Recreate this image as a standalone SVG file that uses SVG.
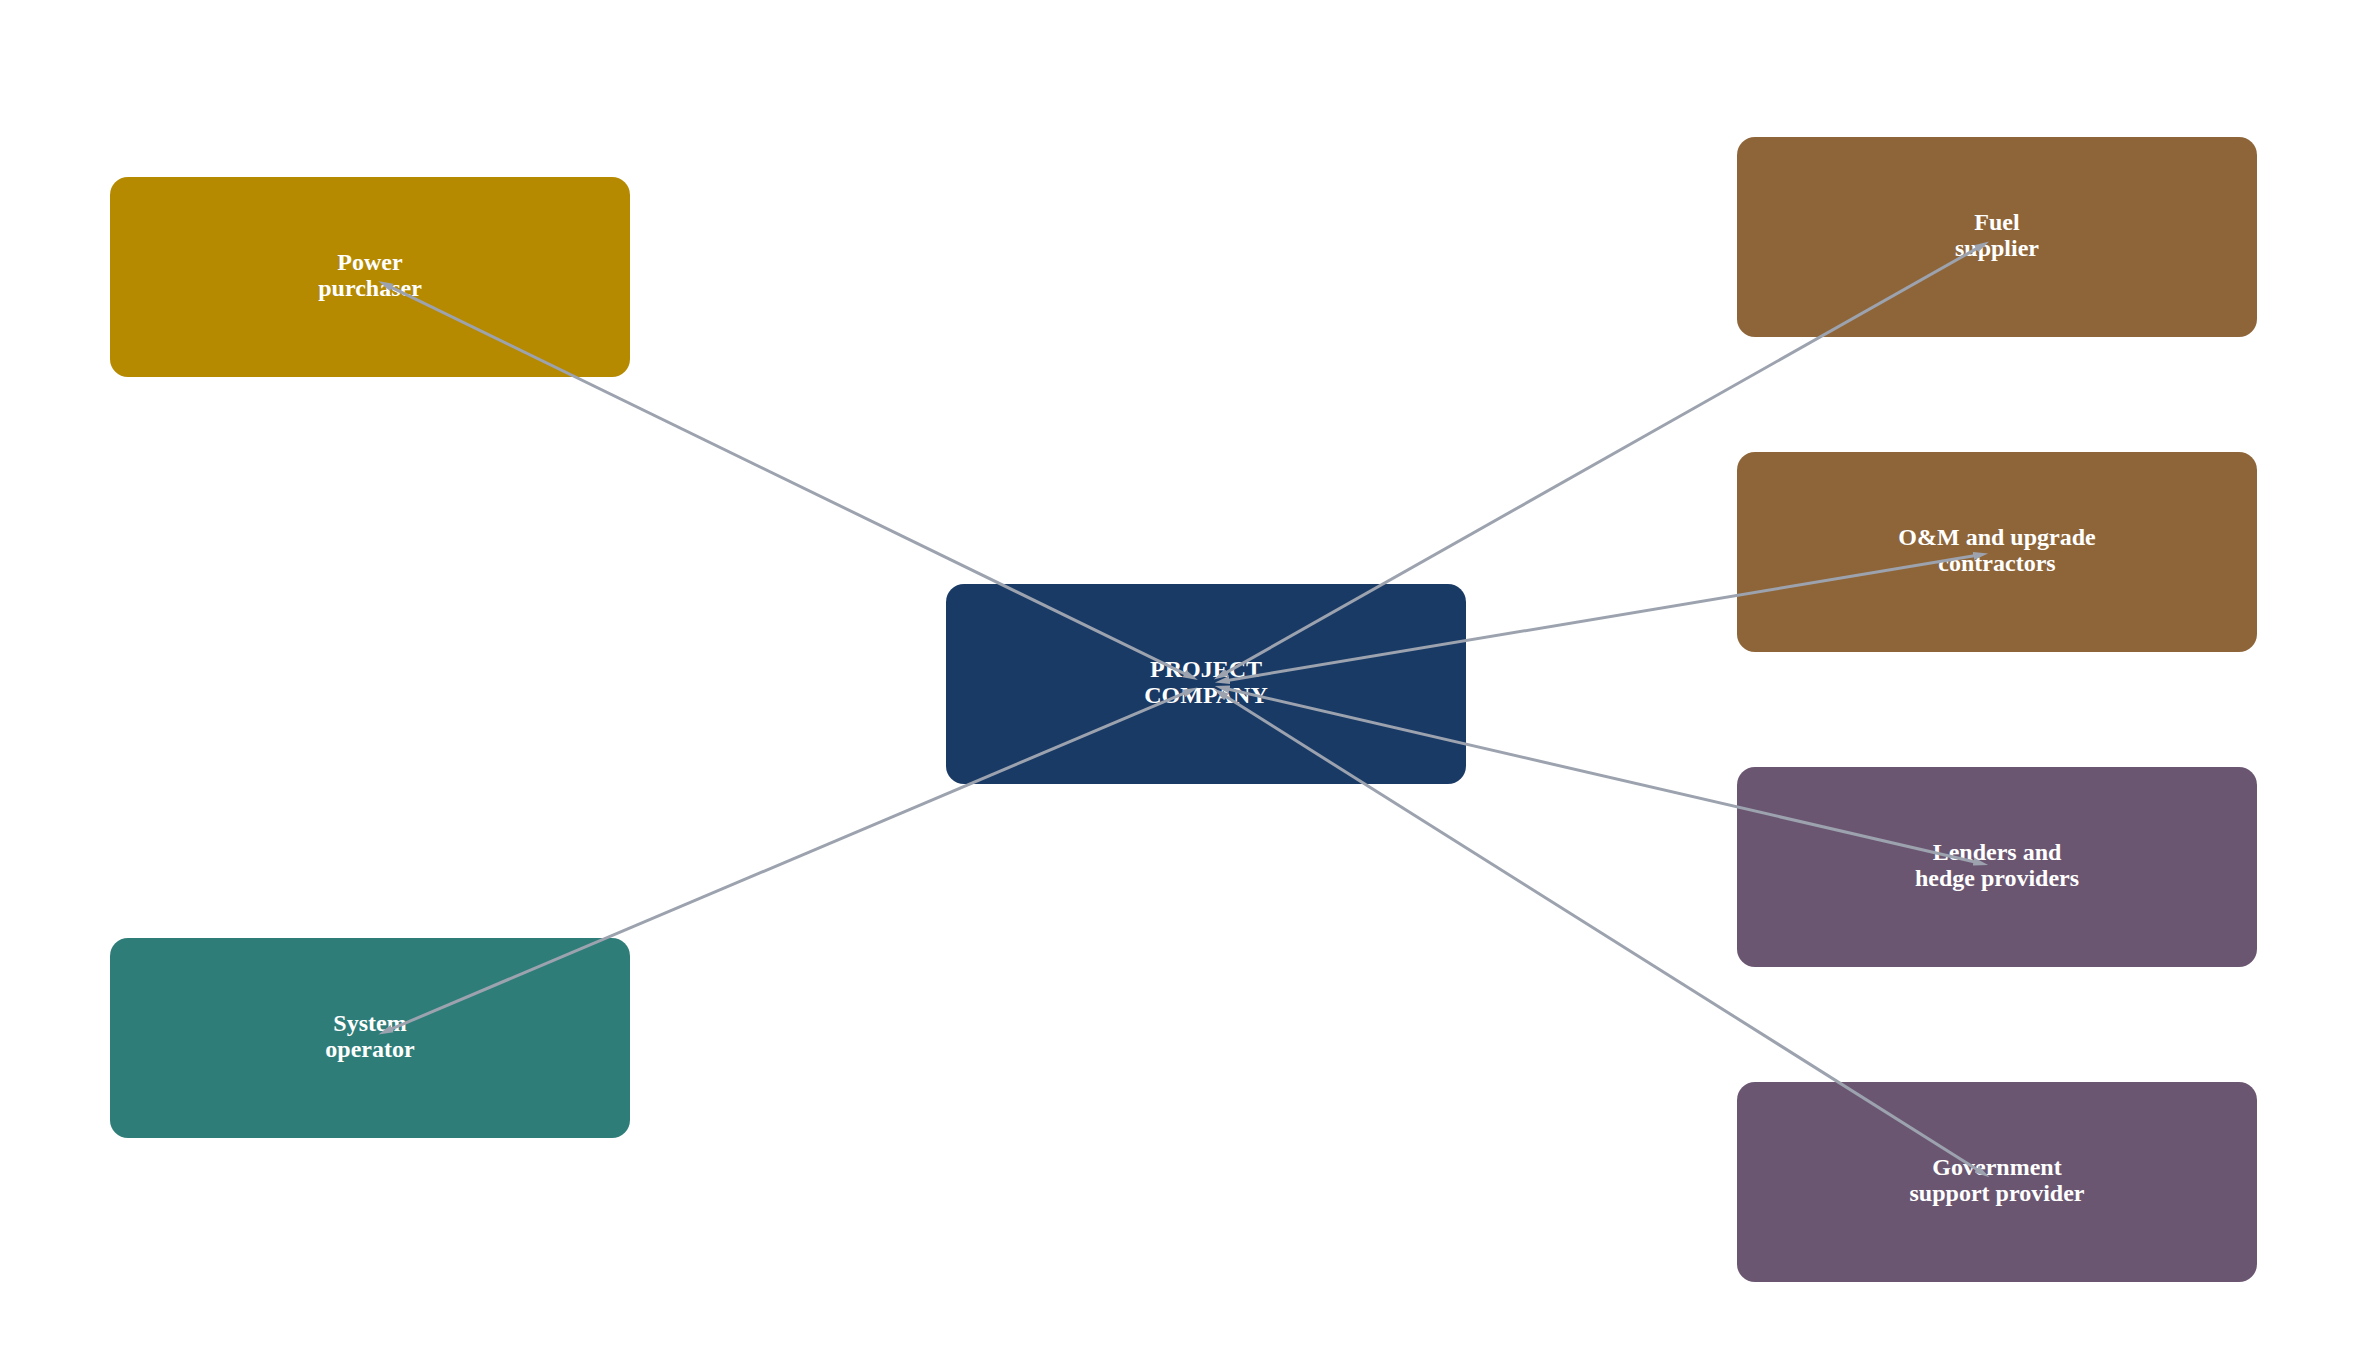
<svg xmlns="http://www.w3.org/2000/svg" width="2367" height="1355" viewBox="0 0 2367 1355">
<style>
.box{stroke:none}
.lbl{font-family:"Liberation Serif","Times New Roman",serif;font-weight:bold;font-size:24px;fill:#ffffff;text-anchor:middle}
.edge{stroke:#9CA3AF;stroke-width:3;fill:none;marker-start:url(#arr);marker-end:url(#arr)}
</style>
<defs>
<marker id="arr" markerUnits="userSpaceOnUse" markerWidth="15" markerHeight="10" viewBox="0 0 15 10" refX="7" refY="5" orient="auto-start-reverse">
<path d="M0,1 L15,5 L0,9 z" fill="#9CA3AF"/>
</marker>
</defs>
<rect width="2367" height="1355" fill="#ffffff"/>
<g id="power-purchaser">
<rect class="box" x="110" y="177" width="520" height="200" rx="18" fill="#B58900"/>
<text class="lbl" x="370" y="270">Power</text>
<text class="lbl" x="370" y="296">purchaser</text>
</g>
<g id="system-operator">
<rect class="box" x="110" y="938" width="520" height="200" rx="18" fill="#2E7D79"/>
<text class="lbl" x="370" y="1031">System</text>
<text class="lbl" x="370" y="1057">operator</text>
</g>
<g id="project-company">
<rect class="box" x="946" y="584" width="520" height="200" rx="18" fill="#1A3A66"/>
<text class="lbl" x="1206" y="677">PROJECT</text>
<text class="lbl" x="1206" y="703">COMPANY</text>
</g>
<g id="fuel-supplier">
<rect class="box" x="1737" y="137" width="520" height="200" rx="18" fill="#8E6539"/>
<text class="lbl" x="1997" y="230">Fuel</text>
<text class="lbl" x="1997" y="256">supplier</text>
</g>
<g id="om-contractors">
<rect class="box" x="1737" y="452" width="520" height="200" rx="18" fill="#8E6539"/>
<text class="lbl" x="1997" y="545">O&amp;M and upgrade</text>
<text class="lbl" x="1997" y="571">contractors</text>
</g>
<g id="lenders">
<rect class="box" x="1737" y="767" width="520" height="200" rx="18" fill="#6B5672"/>
<text class="lbl" x="1997" y="860">Lenders and</text>
<text class="lbl" x="1997" y="886">hedge providers</text>
</g>
<g id="government">
<rect class="box" x="1737" y="1082" width="520" height="200" rx="18" fill="#6B5672"/>
<text class="lbl" x="1997" y="1175">Government</text>
<text class="lbl" x="1997" y="1201">support provider</text>
</g>
<g id="connectors">
<line class="edge" x1="1190.7" y1="676.6" x2="385.3" y2="284.4"/>
<line class="edge" x1="1190.3" y1="690.6" x2="385.7" y2="1031.4"/>
<line class="edge" x1="1220.8" y1="675.6" x2="1982.2" y2="245.4"/>
<line class="edge" x1="1222.8" y1="681.2" x2="1980.2" y2="554.8"/>
<line class="edge" x1="1222.6" y1="687.8" x2="1980.4" y2="863.2"/>
<line class="edge" x1="1220.4" y1="693.1" x2="1982.6" y2="1172.9"/>
</g>
</svg>
